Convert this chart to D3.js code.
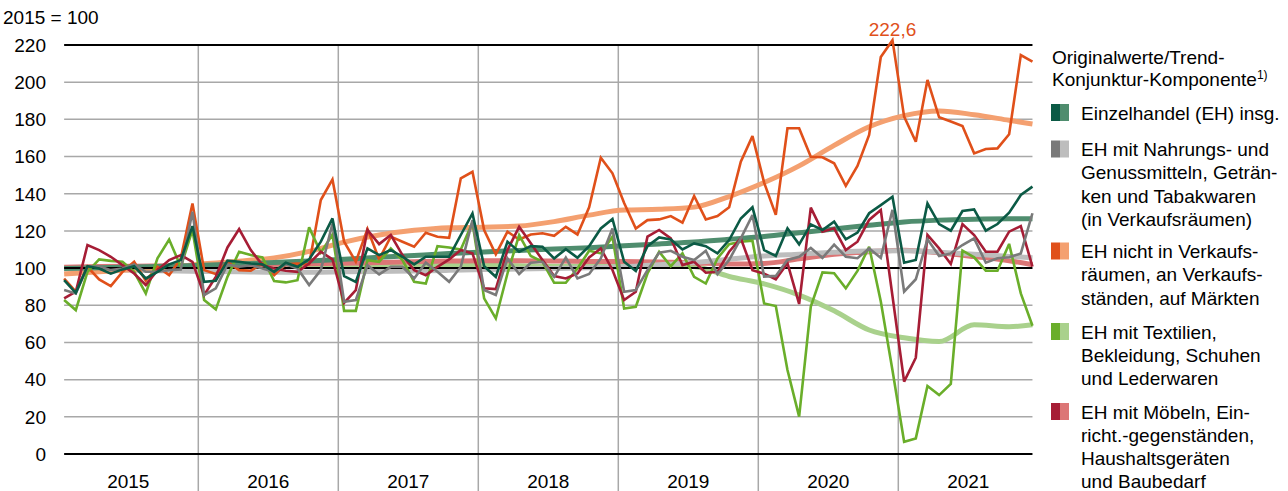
<!DOCTYPE html>
<html><head><meta charset="utf-8">
<script src="https://cdn.jsdelivr.net/npm/d3@7"></script>
<style>
body{margin:0;background:#fff}
svg{display:block}
text{font-family:"Liberation Sans",Arial,Helvetica,sans-serif;}
</style>
</head><body><svg id="c" width="1288" height="491"></svg>
<script>
// ---------- DATA ----------
const years = ["2015","2016","2017","2018","2019","2020","2021"];
const yTicks = [0,20,40,60,80,100,120,140,160,180,200,220];

// Originalwerte (monthly, Jan 2015 – Dec 2021)
const ehTotal = [
 93.5,86.7,101,99.8,97,99.3,101,94.4,98,102,104.3,122.6,
 92.6,93.2,104,103.4,102.5,102,98,102.9,100.7,104.7,114.2,126.7,
 95.7,92.6,110.6,107,109.7,106.1,102,106.1,106.1,106.1,117.8,129.4,
 101,95.3,114.2,108.8,111.8,111.5,105.2,110.2,105.6,111.8,121.3,126.4,
 103.4,98.4,111.8,116.5,115.4,110,113.3,111.8,107.9,115.1,126.7,132.7,
 109.7,106.5,121.4,112.8,123.5,120.5,125,115.5,119.1,129.5,133.9,138.4,
 102.9,104.4,134.8,123.7,120.1,130.7,131.6,120.1,123.7,129.8,139.3,143.8];
const ehFood = [
 88.2,86.4,100.7,101,98.9,99.8,102,98,98,98.9,99.3,130.3,
 85.5,89.1,102,100.7,101.6,99.8,98,102,99.8,90.9,98.9,124,
 81.9,82.8,101.6,96.6,100.7,100.7,94.4,102.9,98,92.6,100.7,125.8,
 88.2,85.5,105.2,96.8,102.9,103.4,95.3,105.7,94.4,96.8,105.2,121.3,
 87.3,88.2,98.9,108.3,109.3,106.1,104.3,109.3,96.8,104.3,116,128.5,
 95.4,95.8,104.4,106.1,110.8,105.5,112.6,106.1,105.3,110.6,105.5,131.3,
 87.3,94,115.5,106.5,107.9,112.4,116,102.9,105.3,105.8,107.9,129.5];
const ehNonStore = [
 94.4,87.3,100.7,93.9,90.3,98,103.4,93.2,100.7,96.2,105.2,134.8,
 98.9,96.8,103.4,98.9,98.6,102.5,96.2,102,102.5,102,136.6,147.7,
 114.2,103.4,121,104.7,116.9,114.2,111.5,119,116.9,116.3,148.3,151.8,
 120.5,107.4,119.6,115.4,118.1,118.7,117.4,122.2,118.1,132.7,159.4,151,
 135,121.3,125.8,126.2,128,124.4,138.8,126.2,128,132.7,157.2,171,
 146,128.6,175.2,175.2,159.9,159.6,156.4,144.2,154.9,171.6,213.5,222.6,
 181.5,168,201.2,181.1,178.8,176.4,161.7,164.1,164.4,172,214.6,211];
const ehTextile = [
 82.8,77.4,98,104.7,103.9,103.4,98,86.4,105.2,115.4,100.7,120.5,
 82.8,77.8,95.3,108.8,107,105.7,93,92.3,93.5,121.9,108.3,118,
 77,77,104.3,103.4,110.6,104.3,92.6,91.7,111.8,111.1,110,124.5,
 83.7,72.9,97.1,117.8,106.5,103.4,92.1,92.1,99.8,109.3,107.9,116.9,
 78.3,79.2,97.1,108.8,101,107.9,95.3,91.7,105.2,112.9,114.2,114.7,
 81,79.6,45.2,20.1,79.3,97.7,97.2,89.1,98.5,111.5,82,45,
 6.6,8.4,36.6,31.7,37.7,109.4,105.8,98.6,98.6,113,86.4,69];
const ehFurniture = [
 83.7,87.3,112.4,109.7,106.1,101.6,97.1,90.9,98.9,104.3,107,103.4,
 85.5,95.3,111.1,121,109.7,101.6,99.8,98.6,98,102.5,108.8,104.7,
 81.3,88.2,120.5,112.9,117.8,107,98.9,96.2,100.7,104.7,109.7,107.9,
 89.1,88.7,109.7,122.2,113.3,104.3,95.7,94.4,97.1,105.7,110.6,99,
 82.8,87.3,116.9,120.5,116,101.6,103.4,97.5,98,108.8,116,98.9,
 97,94,102.6,80.7,132.5,119.6,121.4,109.7,114.2,125.9,131.2,85,
 38.9,51.8,117.8,110.6,102.2,123.7,117.8,108.8,108.8,119.6,122.6,100.8];

// Trend-Konjunktur-Komponente (quarterly readings, month index from Jan 2015)
const trendMonths = [0,3,6,9,12,15,18,21,24,27,30,33,36,39,42,45,48,51,54,57,60,63,66,69,72,75,78,81,83];
const ehTotalTrend = [99.8,100.2,100.6,101,101.5,102.2,103,103.8,104.7,105.8,106.8,107.8,108.7,109.5,110.3,111,112,113,114,115.5,117,119,121,123,124.8,125.8,126.3,126.5,126.5];
const ehFoodTrend = [99.5,99.2,98.8,98.5,98.2,98,97.8,97.8,98,98.2,98.5,98.8,99.2,99.5,99.8,100.2,100.7,101.8,103,104.8,106.5,107.5,108.5,109.2,109.3,108.5,107.5,106.3,105.5];
const ehNonStoreTrend = [96.8,98,99.3,100.5,102.3,103.7,105.5,109,114,117.8,120.3,121.7,122,122.6,125,128.5,131.2,131.6,132.8,138.5,146,155,166,176,182,184.5,182.5,179.5,177.5];
const ehTextileTrend = [100,100.2,100.5,100.8,101,101.2,101.3,101.4,101.5,101.6,101.8,101.8,101.6,101.3,101,101,101.2,101.5,100.8,95.5,91.5,85.5,77,66.7,62.5,60.5,69.5,68.5,69.5];
const ehFurnitureTrend = [100.5,100.8,101,101.2,101.5,101.8,102,102.3,102.6,103,103.4,103.8,104,104,103.8,103.6,103.5,103.3,102.8,102.2,102.5,105,107.5,108.8,109.6,108.2,106.2,104,101.8];

const legendTitle = ["Originalwerte/Trend-", "Konjunktur-Komponente"];
const legendLabels = [
 ["Einzelhandel (EH) insg."],
 ["EH mit Nahrungs- und","Genussmitteln, Geträn-","ken und Tabakwaren","(in Verkaufsräumen)"],
 ["EH nicht in Verkaufs-","räumen, an Verkaufs-","ständen, auf Märkten"],
 ["EH mit Textilien,","Bekleidung, Schuhen","und Lederwaren"],
 ["EH mit Möbeln, Ein-","richt.-gegenständen,","Haushaltsgeräten","und Baubedarf"]];

// ---------- STYLE ----------
const darkCols  = ["#0b5a45","#7a7a7a","#e0501a","#6aae2a","#a61d35"];
const lightCols = ["#4f8d6e","#bdbdbd","#f4a070","#a9d18c","#dc7676"];
const FONT = 19;

const svg = d3.select("#c");
const x = d3.scaleLinear().domain([0,84]).range([58.3,1038.3]);
const y = d3.scaleLinear().domain([0,220]).range([454,45]);

const x0 = x(0.5), x1 = x(83.5);

// horizontal grid (gray)
svg.append("g").selectAll("line").data(yTicks.filter(t=>t!==0&&t!==100&&t!==220)).join("line")
  .attr("x1",x0).attr("x2",x1).attr("y1",d=>y(d)).attr("y2",d=>y(d))
  .attr("stroke","#a8a8a8").attr("stroke-width",1.5);
// vertical year separators
svg.append("g").selectAll("line").data(d3.range(1,years.length)).join("line")
  .attr("x1",d=>x(d*12)).attr("x2",d=>x(d*12)).attr("y1",y(220)).attr("y2",491)
  .attr("stroke","#a8a8a8").attr("stroke-width",1.5);

// y tick labels
svg.append("g").selectAll("text").data(yTicks).join("text")
  .attr("x",46).attr("y",d=>y(d)).attr("dy","0.36em").attr("text-anchor","end")
  .attr("font-size",FONT).attr("fill","#000").text(d=>d);
// year labels
svg.append("g").selectAll("text").data(years).join("text")
  .attr("x",(d,i)=>x(i*12+6)).attr("y",481).attr("dy","0.36em").attr("text-anchor","middle")
  .attr("font-size",FONT).attr("fill","#000").text(d=>d);
svg.append("text").attr("x",3).attr("y",17).attr("dy","0.36em").attr("font-size",FONT).text("2015 = 100");

// trend lines
const trends = [ehTextileTrend, ehFurnitureTrend, ehFoodTrend, ehNonStoreTrend, ehTotalTrend];
const trendIdx = [3,4,1,2,0];
const tLine = d3.line().x(d=>x(d.m+0.5)).y(d=>y(d.v)).curve(d3.curveMonotoneX);
svg.append("g").selectAll("path").data(trends).join("path")
  .attr("d",(s)=>tLine(s.map((v,i)=>({m:trendMonths[i],v}))))
  .attr("fill","none").attr("stroke",(d,i)=>lightCols[trendIdx[i]])
  .attr("stroke-width",5).attr("stroke-linecap","butt");

// black reference lines
svg.append("g").selectAll("line").data([0,100,220]).join("line")
  .attr("x1",x0).attr("x2",x1).attr("y1",d=>y(d)).attr("y2",d=>y(d))
  .attr("stroke","#000").attr("stroke-width",2);

// original series
const origs = [ehNonStore, ehTextile, ehFurniture, ehFood, ehTotal];
const origIdx = [2,3,4,1,0];
const oLine = d3.line().x((d,i)=>x(i+0.5)).y(d=>y(d));
svg.append("g").selectAll("path").data(origs).join("path")
  .attr("d",oLine).attr("fill","none").attr("stroke",(d,i)=>darkCols[origIdx[i]])
  .attr("stroke-width",2.6).attr("stroke-linejoin","miter").attr("stroke-miterlimit",3);

// peak annotation
svg.append("text").attr("x",x(71.5)).attr("y",29).attr("dy","0.36em").attr("text-anchor","middle")
  .attr("font-size",FONT).attr("fill",darkCols[2]).text(d3.format(".1f")(d3.max(ehNonStore)).replace(".",","));

// legend
const lg = svg.append("g");
lg.append("text").attr("x",1052).attr("y",63.5).attr("font-size",FONT).text(legendTitle[0]);
const t2 = lg.append("text").attr("x",1052).attr("y",85.5).attr("font-size",FONT);
t2.append("tspan").text(legendTitle[1]);
t2.append("tspan").attr("font-size",12).attr("dy",-7).text("1)");
const baseY = [119.5,156,258,338.5,418.5];
const LH = 23.3;
legendLabels.forEach((lines,k)=>{
  const b = baseY[k];
  lg.append("rect").attr("x",1051).attr("y",b-15.5).attr("width",9).attr("height",17).attr("fill",darkCols[k]);
  lg.append("rect").attr("x",1060).attr("y",b-15.5).attr("width",9).attr("height",17).attr("fill",lightCols[k]);
  lines.forEach((s,j)=>{
    lg.append("text").attr("x",1081).attr("y",b+j*LH).attr("font-size",FONT).text(s);
  });
});
</script>
</body></html>
